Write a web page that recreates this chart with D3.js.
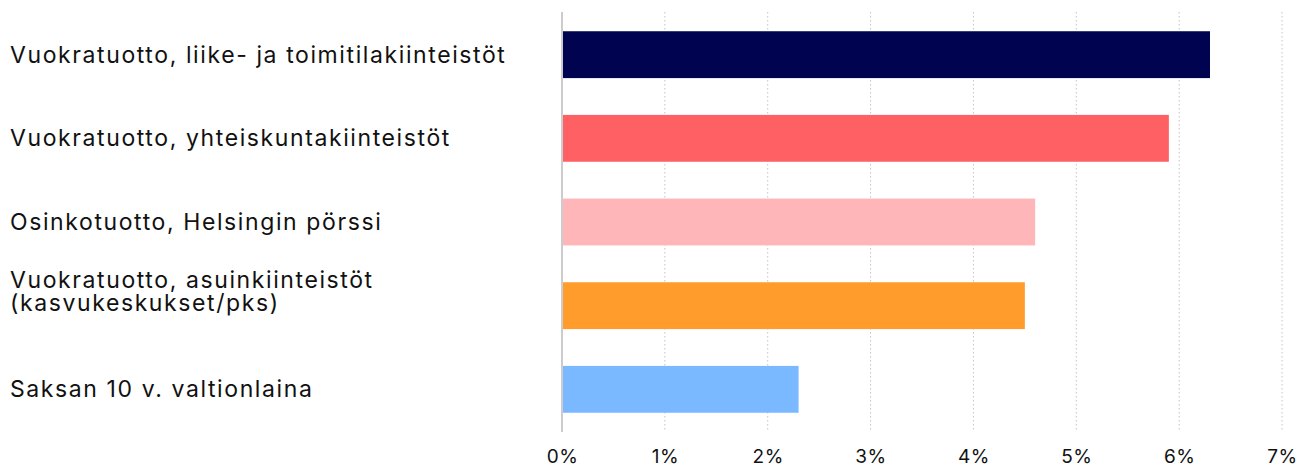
<!DOCTYPE html>
<html>
<head>
<meta charset="utf-8">
<script src="https://cdn.jsdelivr.net/npm/d3@7"></script>
<style>
  body { margin: 0; background: #fff; }
  svg { display: block; }
</style>
</head>
<body>
<div id="chart"></div>
<script>
const categories = [
  "Vuokratuotto, liike- ja toimitilakiinteistöt",
  "Vuokratuotto, yhteiskuntakiinteistöt",
  "Osinkotuotto, Helsingin pörssi",
  "Vuokratuotto, asuinkiinteistöt\n(kasvukeskukset/pks)",
  "Saksan 10 v. valtionlaina"
];
const values = [6.3, 5.9, 4.6, 4.5, 2.3];
const tickValues = [0, 1, 2, 3, 4, 5, 6, 7];
const colours = ["#00034f", "#ff6064", "#ffb6b8", "#ff9c2c", "#7ab8ff"];

const width = 1308, height = 469;
const margin = { top: 12, right: 26, bottom: 37, left: 562 };

const svg = d3.select("#chart")
  .append("svg")
  .attr("width", width)
  .attr("height", height);

const x = d3.scaleLinear()
  .domain([0, 7])
  .range([margin.left, width - margin.right]);

const y = d3.scaleBand()
  .domain(categories)
  .range([margin.top, height - margin.bottom])
  .paddingInner(0.44)
  .paddingOuter(0.23);

// dotted gridlines
svg.append("g")
  .selectAll("line")
  .data(tickValues.filter(d => d > 0))
  .join("line")
  .attr("x1", d => x(d))
  .attr("x2", d => x(d))
  .attr("y1", margin.top)
  .attr("y2", height - margin.bottom)
  .attr("stroke", "#c4c4c4")
  .attr("stroke-width", 1)
  .attr("stroke-dasharray", "1.5,2.5");

// zero line
svg.append("line")
  .attr("x1", x(0))
  .attr("x2", x(0))
  .attr("y1", margin.top)
  .attr("y2", height - margin.bottom)
  .attr("stroke", "#cccccc")
  .attr("stroke-width", 2);

// bars
svg.append("g")
  .selectAll("rect")
  .data(values)
  .join("rect")
  .attr("x", x(0) + 1)
  .attr("y", (d, i) => y(categories[i]))
  .attr("width", d => x(d) - x(0) - 1)
  .attr("height", y.bandwidth())
  .attr("fill", (d, i) => colours[i]);

// category labels
const labels = svg.append("g")
  .selectAll("text")
  .data(categories)
  .join("text")
  .attr("x", 10)
  .attr("y", d => y(d) + y.bandwidth() / 2)
  .style("font-family", "Inter, 'Noto Sans', sans-serif")
  .style("font-size", "23px")
  .style("letter-spacing", "1.6px")
  .style("fill", "#111");

labels.each(function (d) {
  const lines = d.split("\n");
  const t = d3.select(this);
  const lh = 23;
  lines.forEach((line, i) => {
    t.append("tspan")
      .attr("x", 10)
      .attr("dy", i === 0 ? (8 - (lines.length - 1) * (lh + 2.5)) : lh)
      .text(line);
  });
});

// x axis labels
const xAxis = d3.axisBottom(x)
  .tickValues(tickValues)
  .tickFormat(d => d + "%")
  .tickSize(0)
  .tickPadding(0);

const gx = svg.append("g")
  .attr("transform", `translate(0, 463)`)
  .call(xAxis);
gx.select(".domain").remove();
gx.selectAll("text")
  .attr("y", 0)
  .attr("dy", 0)
  .style("font-family", "Inter, 'Noto Sans', sans-serif")
  .style("font-size", "19px")
  .style("letter-spacing", "0.5px")
  .style("fill", "#111");
</script>
</body>
</html>
